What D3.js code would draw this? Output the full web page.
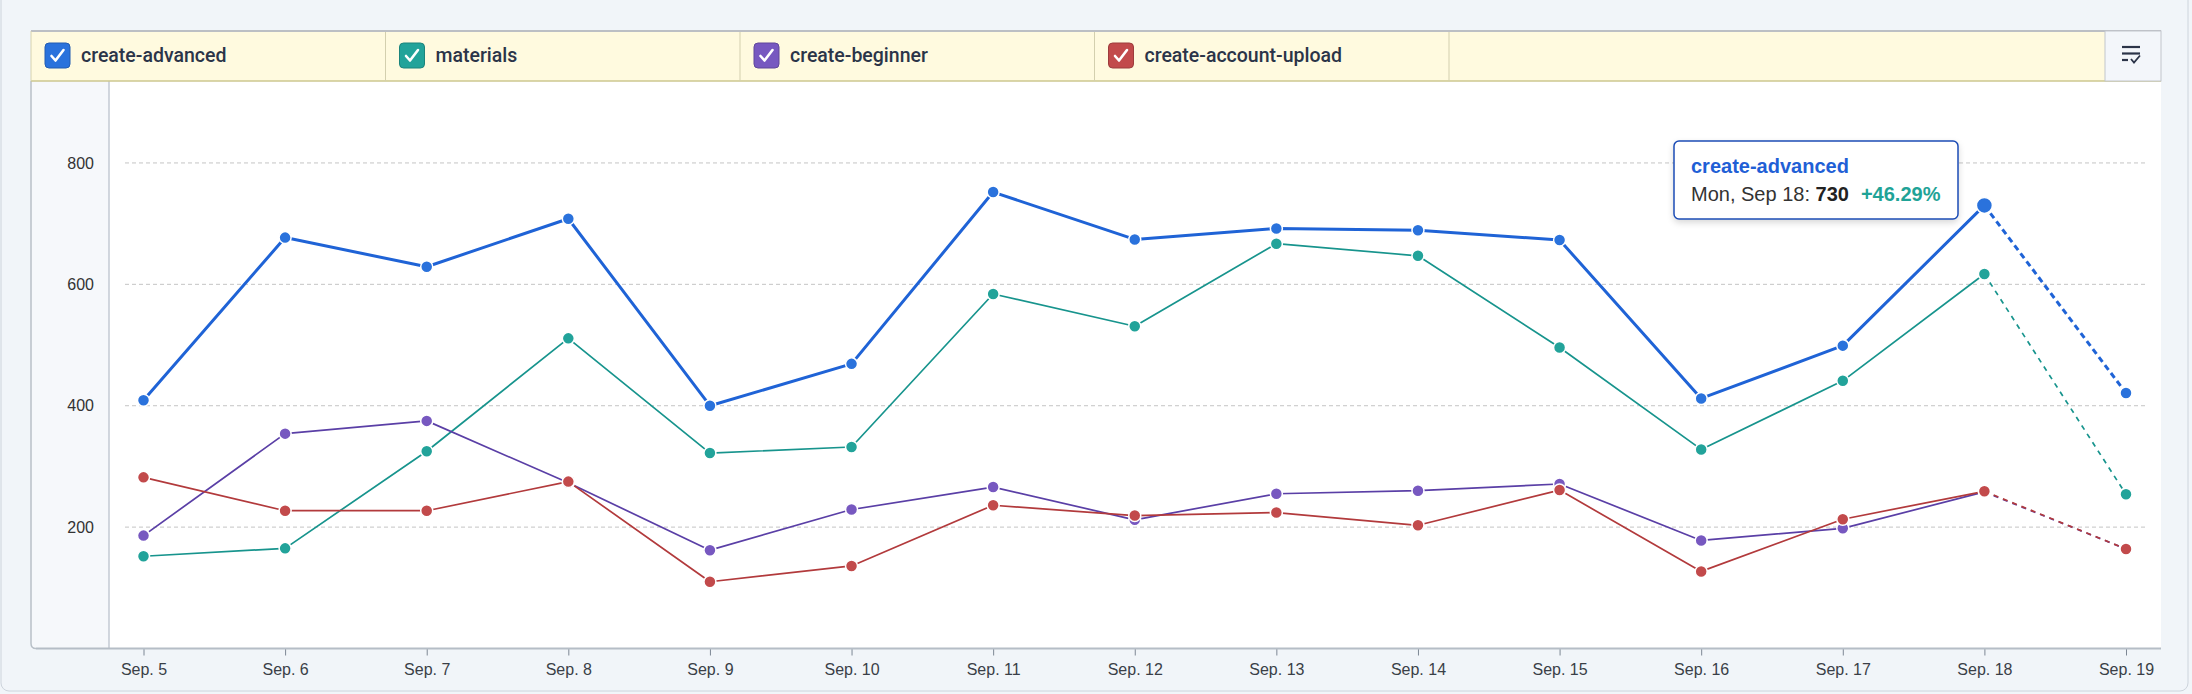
<!DOCTYPE html>
<html>
<head>
<meta charset="utf-8">
<script src="https://cdn.jsdelivr.net/npm/d3@7"></script>
<style>
    body { margin: 0; background: #f1f5f9; }
    svg { display: block; font-family: "Liberation Sans", Arial, sans-serif; }
</style>
</head>
<body>
<div id="chart"></div>
<script>
const dates = ['Sep. 5', 'Sep. 6', 'Sep. 7', 'Sep. 8', 'Sep. 9', 'Sep. 10', 'Sep. 11', 'Sep. 12',
    'Sep. 13', 'Sep. 14', 'Sep. 15', 'Sep. 16', 'Sep. 17', 'Sep. 18', 'Sep. 19'];
const seriesNames = ['create-advanced', 'materials', 'create-beginner', 'create-account-upload'];
const createAdvanced = [409, 677, 629, 708, 400, 469, 752, 674, 692, 689, 673, 412, 499, 730, 421];
const materials = [152, 165, 325, 511, 322, 332, 584, 531, 667, 647, 496, 328, 441, 617, 254];
const createBeginner = [186, 354, 375, 273, 162, 229, 266, 212, 255, 260, 271, 178, 198, 258, 164];
const createAccountUpload = [282, 227, 227, 275, 110, 136, 236, 219, 224, 203, 261, 127, 213, 259, 164];
const yTicks = [200, 400, 600, 800];
const hoverIndex = 13;
const hoverLabel = 'Mon, Sep 18';

const W = 2192, H = 694;
const panel = { left: 31, right: 2161, top: 31, legendBottom: 81, bottom: 648.5, gutter: 109 };

const seriesList = [
    { name: seriesNames[0], values: createAdvanced, color: '#2a72dc', line: '#1f63d6', width: 3, dash: '6,4' },
    { name: seriesNames[1], values: materials, color: '#22a39a', line: '#17948d', width: 1.7, dash: '5,5' },
    { name: seriesNames[2], values: createBeginner, color: '#7758c0', line: '#5a3fa6', width: 1.7, dash: '5,5' },
    { name: seriesNames[3], values: createAccountUpload, color: '#c24a4b', line: '#b23a3c', width: 1.7, dash: '5,5' }
];

const svg = d3.select('#chart').append('svg')
    .attr('width', W)
    .attr('height', H);

const defs = svg.append('defs');
const shadow = defs.append('filter').attr('id', 'shadow')
    .attr('x', '-10%').attr('y', '-20%').attr('width', '120%').attr('height', '150%');
shadow.append('feDropShadow')
    .attr('dx', 0).attr('dy', 3).attr('stdDeviation', 3)
    .attr('flood-color', '#000').attr('flood-opacity', 0.15);

// outer card
svg.append('rect')
    .attr('x', 1).attr('y', -12)
    .attr('width', 2187).attr('height', 703)
    .attr('rx', 8)
    .attr('fill', '#f1f5f9')
    .attr('stroke', '#cdd4dc');

// plot panel
svg.append('rect')
    .attr('x', panel.left).attr('y', panel.legendBottom)
    .attr('width', panel.right - panel.left).attr('height', panel.bottom - panel.legendBottom)
    .attr('fill', '#ffffff');
svg.append('rect')
    .attr('x', panel.left).attr('y', panel.legendBottom)
    .attr('width', panel.gutter - panel.left).attr('height', panel.bottom - panel.legendBottom)
    .attr('fill', '#f6f8fb');
svg.append('path')
    .attr('d', `M${panel.left},${panel.legendBottom} V${panel.bottom - 5} q0,5 5,5`)
    .attr('fill', 'none')
    .attr('stroke', '#b9c0c8')
    .attr('stroke-width', 1.5);
svg.append('line')
    .attr('x1', panel.gutter).attr('x2', panel.gutter)
    .attr('y1', panel.legendBottom).attr('y2', panel.bottom)
    .attr('stroke', '#c3cad3')
    .attr('stroke-width', 1.5);

const xScale = d3.scalePoint()
    .domain(dates)
    .range([143.5, 2126]);

const yScale = d3.scaleLinear()
    .domain([0, 935])
    .range([panel.bottom, panel.legendBottom]);

// grid
svg.append('g')
    .selectAll('line')
    .data(yTicks)
    .enter()
    .append('line')
    .attr('x1', 125).attr('x2', 2147)
    .attr('y1', d => yScale(d)).attr('y2', d => yScale(d))
    .attr('stroke', '#c4c4c4')
    .attr('stroke-width', 1)
    .attr('stroke-dasharray', '4,3');

svg.append('g')
    .selectAll('text')
    .data(yTicks)
    .enter()
    .append('text')
    .attr('x', 94)
    .attr('y', d => yScale(d))
    .attr('dy', '0.35em')
    .attr('text-anchor', 'end')
    .style('font-size', '16px')
    .attr('fill', '#333')
    .text(d => d);

// x axis
const xAxis = svg.append('g')
    .attr('transform', `translate(0, ${panel.bottom})`)
    .call(d3.axisBottom(xScale).tickSize(7).tickPadding(8));
xAxis.select('.domain').remove();
xAxis.selectAll('.tick line').attr('stroke', '#7d8794');
xAxis.selectAll('.tick text')
    .style('font-size', '16px')
    .style('font-family', '"Liberation Sans", Arial, sans-serif')
    .attr('fill', '#3a3f47');
svg.append('line')
    .attr('x1', panel.left + 5).attr('x2', panel.right)
    .attr('y1', panel.bottom).attr('y2', panel.bottom)
    .attr('stroke', '#b5bdc6')
    .attr('stroke-width', 2);

// lines
const line = d3.line()
    .x((d, i) => xScale(dates[d.i]))
    .y(d => yScale(d.v));

const lines = svg.append('g');
seriesList.forEach(s => {
    const pts = s.values.map((v, i) => ({ v: v, i: i }));
    lines.append('path')
        .attr('d', line(pts.slice(0, pts.length - 1)))
        .attr('fill', 'none')
        .attr('stroke', s.line)
        .attr('stroke-width', s.width)
        .attr('stroke-linejoin', 'round');
    lines.append('path')
        .attr('d', line(pts.slice(pts.length - 2)))
        .attr('fill', 'none')
        .attr('stroke', s.line)
        .attr('stroke-width', s.width)
        .attr('stroke-dasharray', s.dash);
});

const dots = svg.append('g');
seriesList.forEach((s, si) => {
    dots.selectAll(null)
        .data(s.values)
        .enter()
        .append('circle')
        .attr('cx', (d, i) => xScale(dates[i]))
        .attr('cy', d => yScale(d))
        .attr('r', (d, i) => (si === 0 && i === hoverIndex) ? 8 : 6)
        .attr('fill', s.color)
        .attr('stroke', 'white')
        .attr('stroke-width', 1.5);
});

// legend
const legend = svg.append('g');
legend.append('rect')
    .attr('x', panel.left).attr('y', panel.top)
    .attr('width', panel.right - panel.left).attr('height', panel.legendBottom - panel.top)
    .attr('fill', '#fffadf');
legend.append('line')
    .attr('x1', panel.left).attr('x2', panel.right)
    .attr('y1', panel.top).attr('y2', panel.top)
    .attr('stroke', '#bcbfc4').attr('stroke-width', 2);
legend.append('line')
    .attr('x1', panel.left).attr('x2', panel.right)
    .attr('y1', panel.legendBottom).attr('y2', panel.legendBottom)
    .attr('stroke', '#cdc78f').attr('stroke-width', 1.5);
legend.append('line')
    .attr('x1', panel.left).attr('x2', panel.left)
    .attr('y1', panel.top).attr('y2', panel.legendBottom)
    .attr('stroke', '#d6d2b0');

const cellW = 354.5;
const items = legend.selectAll('.legend-item')
    .data(seriesList)
    .enter()
    .append('g')
    .attr('class', 'legend-item')
    .attr('transform', (d, i) => `translate(${panel.left + i * cellW}, 0)`);
items.append('rect')
    .attr('x', 14).attr('y', 43)
    .attr('width', 25).attr('height', 25)
    .attr('rx', 4)
    .attr('fill', d => d.color)
    .attr('stroke', d => d3.color(d.color).darker(0.6))
    .attr('stroke-width', 1);
items.append('path')
    .attr('d', 'M20.5,56 L24.5,60.5 L32.5,50')
    .attr('fill', 'none')
    .attr('stroke', 'white')
    .attr('stroke-width', 2.6)
    .attr('stroke-linecap', 'round')
    .attr('stroke-linejoin', 'round');
items.append('text')
    .attr('x', 50).attr('y', 62)
    .style('font-size', '19.5px')
    .style('font-family', 'Roboto, sans-serif')
    .style('font-weight', 500)
    .attr('fill', '#2b3448')
    .text(d => d.name);
legend.selectAll('.sep')
    .data(d3.range(1, 5))
    .enter()
    .append('line')
    .attr('x1', i => panel.left + i * cellW).attr('x2', i => panel.left + i * cellW)
    .attr('y1', panel.top + 1).attr('y2', panel.legendBottom)
    .attr('stroke', '#d3cfae');

// filter button
const btn = legend.append('g');
btn.append('rect')
    .attr('x', 2105).attr('y', panel.top)
    .attr('width', panel.right - 2105).attr('height', panel.legendBottom - panel.top)
    .attr('fill', '#f3f6fa')
    .attr('stroke', '#c2c6cc');
const ic = btn.append('g').attr('stroke', '#2b3448').attr('stroke-width', 2.2).attr('fill', 'none');
ic.append('line').attr('x1', 2122).attr('x2', 2140).attr('y1', 47).attr('y2', 47);
ic.append('line').attr('x1', 2122).attr('x2', 2140).attr('y1', 53.5).attr('y2', 53.5);
ic.append('line').attr('x1', 2122).attr('x2', 2128).attr('y1', 60).attr('y2', 60);
ic.append('path').attr('d', 'M2131,59 L2134,62.5 L2140,55.5').attr('stroke-width', 1.8);

// tooltip
const hv = createAdvanced[hoverIndex];
const prev = createAdvanced[hoverIndex - 1];
const pct = ((hv / prev - 1) * 100).toFixed(2);
const tip = svg.append('g').attr('transform', 'translate(1674, 141)');
tip.append('rect')
    .attr('width', 284).attr('height', 78)
    .attr('rx', 5)
    .attr('fill', 'white')
    .attr('stroke', '#1c4cb5')
    .attr('stroke-width', 1.5)
    .attr('filter', 'url(#shadow)');
tip.append('text')
    .attr('x', 17).attr('y', 32)
    .style('font-size', '20px')
    .style('font-weight', 'bold')
    .attr('fill', '#1f5fd6')
    .text(seriesNames[0]);
const t2 = tip.append('text')
    .attr('x', 17).attr('y', 60)
    .style('font-size', '20px')
    .attr('fill', '#333');
t2.append('tspan').text(hoverLabel + ': ');
t2.append('tspan').style('font-weight', 'bold').attr('fill', '#222').text(hv);
t2.append('tspan').attr('dx', 12).attr('fill', '#1fa397').style('font-weight', 'bold')
    .text((pct > 0 ? '+' : '') + pct + '%');
</script>
</body>
</html>
